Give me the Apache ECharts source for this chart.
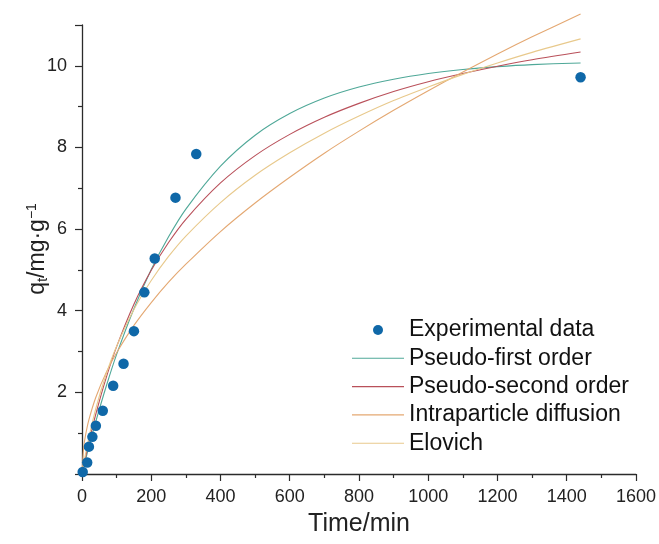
<!DOCTYPE html>
<html>
<head>
<meta charset="utf-8">
<script src="https://cdn.jsdelivr.net/npm/echarts@6/dist/echarts.min.js"></script>
<style>html,body{margin:0;padding:0;background:#fff}#c{width:659px;height:544px}</style>
</head>
<body>
<div id="c"></div>
<script>
// Experimental data
const expTime = [2, 15, 20, 30, 40, 60, 90, 120, 150, 180, 210, 270, 330, 1440];
const expQ = [0.05, 0.28, 0.67, 0.91, 1.18, 1.55, 2.16, 2.70, 3.50, 4.45, 5.28, 6.77, 7.84, 9.72];
// Model curves
const fitTime = [0, 5, 10, 20, 40, 70, 100, 150, 200, 250, 300, 400, 500, 600, 700, 800, 900, 1000, 1100, 1200, 1300, 1440];
const pfoQ = [0, 0.17, 0.34, 0.67, 1.29, 2.15, 2.93, 4.05, 5.01, 5.81, 6.49, 7.54, 8.30, 8.83, 9.21, 9.48, 9.67, 9.81, 9.91, 9.98, 10.03, 10.07];
const psoQ = [0, 0.20, 0.40, 0.78, 1.47, 2.36, 3.12, 4.16, 4.99, 5.67, 6.24, 7.13, 7.80, 8.32, 8.74, 9.08, 9.37, 9.61, 9.81, 9.99, 10.15, 10.34];
const ipdQ = [0, 0.66, 0.94, 1.33, 1.88, 2.49, 2.97, 3.64, 4.20, 4.70, 5.14, 5.94, 6.64, 7.27, 7.86, 8.40, 8.91, 9.39, 9.85, 10.29, 10.71, 11.27];
const eloQ = [0, 0.25, 0.48, 0.90, 1.61, 2.45, 3.13, 4.03, 4.74, 5.33, 5.83, 6.65, 7.32, 7.87, 8.35, 8.77, 9.15, 9.48, 9.79, 10.07, 10.33, 10.66];
const seriesNames = ['Experimental data', 'Pseudo-first order', 'Pseudo-second order', 'Intraparticle diffusion', 'Elovich'];
const xTicks = { min: 0, max: 1600, interval: 200 };
const yTicks = { min: 0, max: 11, interval: 2 };

const pair = (xs, ys) => xs.map((x, i) => [x, ys[i]]);
const font = 'Arial, "Liberation Sans", sans-serif';
const axisColor = '#2b2b2b';
const lineIcon = 'path://M0,0H100V2.2H0Z';

const chart = echarts.init(document.getElementById('c'), null, { renderer: 'canvas' });
const lineSeries = (name, data, color) => ({
  name, type: 'line', data, smooth: 0.3, symbol: 'none', clip: false,
  lineStyle: { color, width: 1.1 }, itemStyle: { color }, z: 2
});
chart.setOption({
  animation: false,
  backgroundColor: '#fff',
  grid: { left: 82, right: 23, top: 25, bottom: 70, containLabel: false },
  xAxis: {
    type: 'value', min: xTicks.min, max: xTicks.max, interval: xTicks.interval,
    name: 'Time/min', nameLocation: 'middle', nameGap: 38,
    nameTextStyle: { fontFamily: font, fontSize: 25, color: '#222' },
    axisLine: { show: true, lineStyle: { color: axisColor, width: 1.3 } },
    axisTick: { show: true, length: 7, lineStyle: { color: axisColor, width: 1.2 } },
    minorTick: { show: true, splitNumber: 2, length: 4, lineStyle: { color: axisColor, width: 1.2 } },
    axisLabel: { fontFamily: font, fontSize: 18, color: '#222', margin: 14, formatter: v => String(v) },
    splitLine: { show: false }
  },
  yAxis: {
    type: 'value', min: yTicks.min, max: yTicks.max, interval: yTicks.interval,
    axisLine: { show: true, lineStyle: { color: axisColor, width: 1.3 } },
    axisTick: { show: true, length: 7, lineStyle: { color: axisColor, width: 1.2 } },
    minorTick: { show: true, splitNumber: 2, length: 4, lineStyle: { color: axisColor, width: 1.2 } },
    axisLabel: {
      fontFamily: font, fontSize: 18, color: '#222', margin: 15,
      formatter: v => (v === 0 || v > 10) ? '' : String(v)
    },
    splitLine: { show: false }
  },
  graphic: [{
    type: 'text', x: 38, y: 249, rotation: Math.PI / 2,
    style: {
      text: '{a|q}{s|t}{a|/mg·g}{p|−1}',
      align: 'center', verticalAlign: 'middle',
      fill: '#222', font: '23px ' + font,
      rich: {
        a: { fontFamily: font, fontSize: 23, fill: '#222' },
        s: { fontFamily: font, fontSize: 15, fill: '#222', padding: [10, 0, 0, 0] },
        p: { fontFamily: font, fontSize: 14, fill: '#222', padding: [0, 0, 12, 0] }
      }
    }
  }],
  legend: {
    orient: 'vertical', left: 352, top: 318, padding: 0, itemWidth: 52, itemHeight: 10, itemGap: 4.3,
    textStyle: { fontFamily: font, fontSize: 23, lineHeight: 24, color: '#111' },
    data: [
      { name: seriesNames[0], icon: 'circle' },
      { name: seriesNames[1], icon: lineIcon },
      { name: seriesNames[2], icon: lineIcon },
      { name: seriesNames[3], icon: lineIcon },
      { name: seriesNames[4], icon: lineIcon }
    ]
  },
  series: [
    lineSeries(seriesNames[1], pair(fitTime, pfoQ), '#4fa898'),
    lineSeries(seriesNames[2], pair(fitTime, psoQ), '#b9505a'),
    lineSeries(seriesNames[3], pair(fitTime, ipdQ), '#e4a872'),
    lineSeries(seriesNames[4], pair(fitTime, eloQ), '#e8c98c'),
    {
      name: seriesNames[0], type: 'scatter', data: pair(expTime, expQ),
      symbol: 'circle', symbolSize: 10.5, itemStyle: { color: '#0f68a8', opacity: 1 }, z: 3
    }
  ]
});
</script>
</body>
</html>
